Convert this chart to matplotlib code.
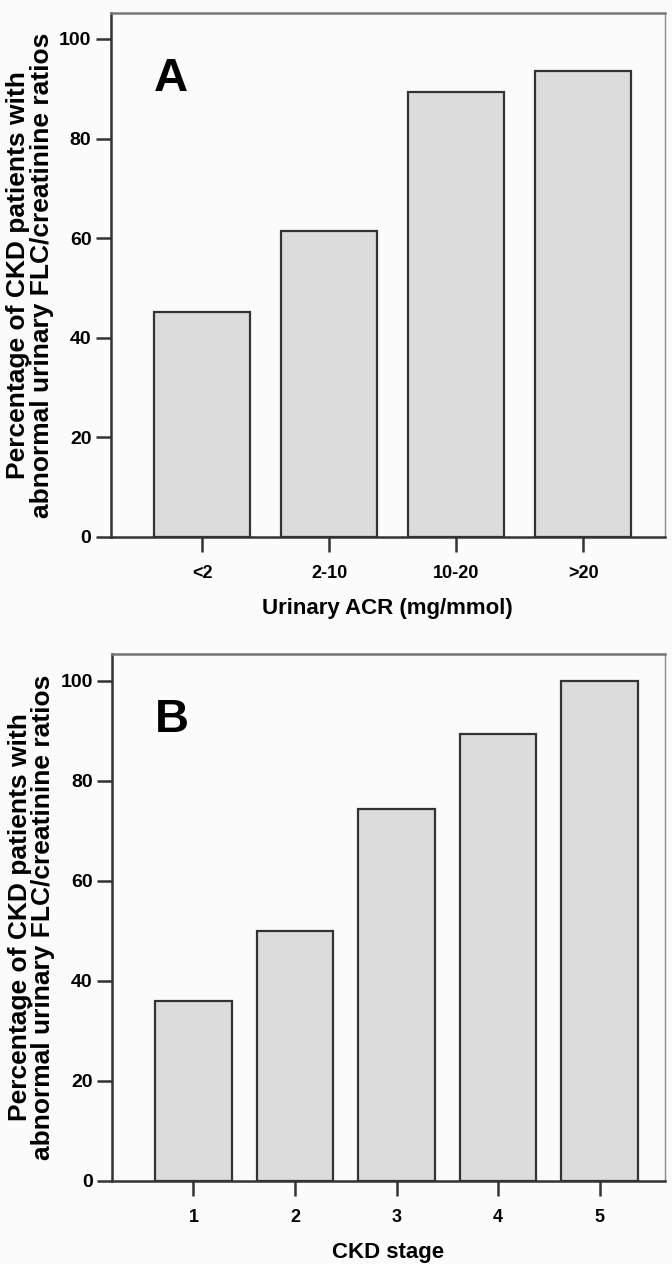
import matplotlib
matplotlib.use("Agg")
from matplotlib import pyplot as plt

acr_groups = ["<2", "2-10", "10-20", ">20"]
acr_pct = [45.2, 61.5, 89.4, 93.6]
ckd_stages = ["1", "2", "3", "4", "5"]
ckd_pct = [36.0, 50.0, 74.3, 89.3, 100.0]
yticks = [0, 20, 40, 60, 80, 100]

fam = ["Liberation Sans", "DejaVu Sans"]
bg = "#fbfbfb"
dark = "#333333"
ylab = "Percentage of CKD patients with\nabnormal urinary FLC/creatinine ratios"

fig = plt.figure(figsize=(6.72, 12.64), dpi=100, facecolor=bg)
axA = fig.add_axes([0.165, 0.5752, 0.824, 0.4145])
axB = fig.add_axes([0.167, 0.0657, 0.822, 0.4169])


def panel(ax, cats, vals, letter, xlabel, xlim, ytop):
    x = list(range(len(cats)))
    ax.set_facecolor(bg)
    ax.bar(x, vals, width=0.755, color="#dcdcdc", edgecolor=dark, linewidth=1.6, zorder=2)
    ax.set_xlim(*xlim)
    ax.set_ylim(0, ytop)
    ax.set_xticks(x)
    ax.set_xticklabels(cats, family=fam, fontsize=13, weight="bold")
    ax.set_yticks(yticks)
    ax.set_yticklabels([str(v) for v in yticks], family=fam, fontsize=14, weight="bold")
    for s in ax.spines.values():
        s.set_color(dark)
        s.set_linewidth(1.8)
    ax.spines["top"].set_color("#777777")
    ax.spines["right"].set_color("#888888")
    ax.spines["right"].set_linewidth(1.0)
    ax.tick_params(axis="both", length=11, width=1.8, color=dark, pad=3)
    ax.tick_params(axis="x", pad=9)
    ax.set_xlabel(xlabel, family=fam, fontsize=16, weight="bold", labelpad=12)
    ax.set_ylabel(ylab, family=fam, fontsize=19, weight="bold", labelpad=4, linespacing=0.95)
    ax.text(0.108, 0.875, letter, transform=ax.transAxes, ha="center", va="center",
            fontsize=34, weight="bold", family=fam)


panel(axA, acr_groups, acr_pct, "A", "Urinary ACR (mg/mmol)", (-0.72, 3.64), 105.2)
panel(axB, ckd_stages, ckd_pct, "B", "CKD stage", (-0.8, 4.64), 105.4)

fig.savefig("out.png", dpi=100, facecolor=bg)
